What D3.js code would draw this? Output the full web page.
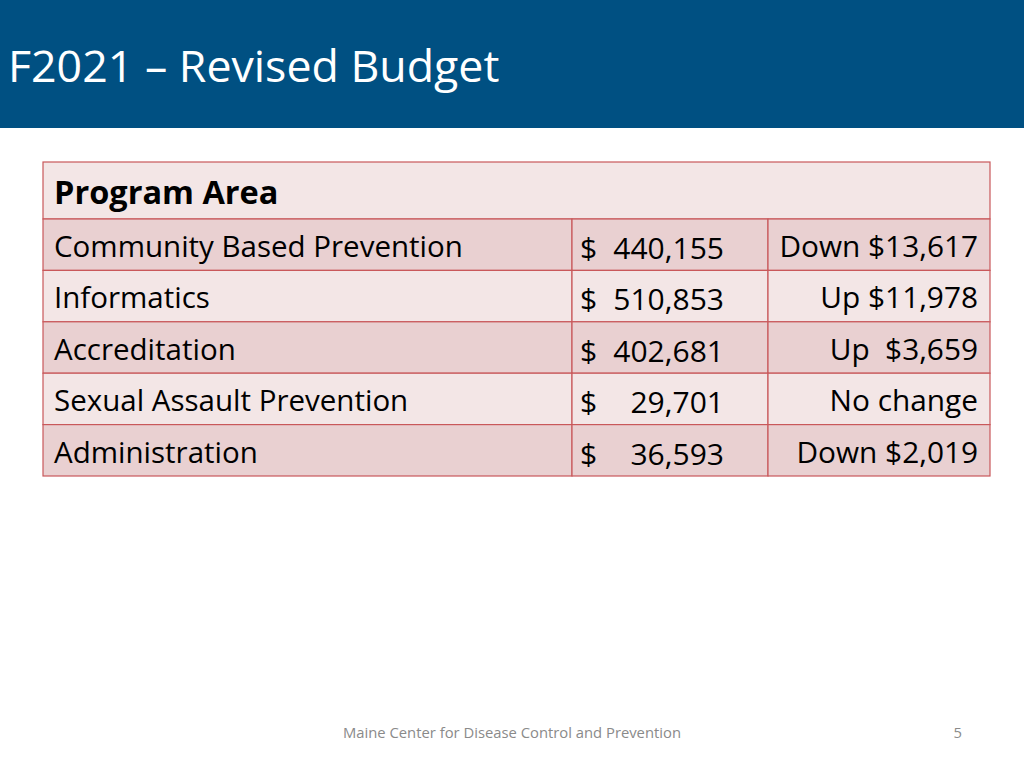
<!DOCTYPE html>
<html>
<head>
<meta charset="utf-8">
<script src="https://cdn.jsdelivr.net/npm/d3@7"></script>
<style>
  html, body { margin: 0; padding: 0; background: #ffffff; }
  svg { display: block; }
  text { font-family: "Open Sans", "Noto Sans", sans-serif; }
</style>
</head>
<body>
<svg id="chart" width="1024" height="768"></svg>
<script>
const titleText = "F2021 – Revised Budget";
const headerLabel = "Program Area";
const programs = ["Community Based Prevention", "Informatics", "Accreditation", "Sexual Assault Prevention", "Administration"];
const amounts = [440155, 510853, 402681, 29701, 36593];
const changes = ["Down $13,617", "Up $11,978", "Up  $3,659", "No change", "Down $2,019"];
const footerText = "Maine Center for Disease Control and Prevention";
const pageNumber = "5";

const svg = d3.select("#chart");
const W = 1024, H = 768;

// header band
svg.append("rect").attr("x", 0).attr("y", 0).attr("width", W).attr("height", 128).attr("fill", "#005082");
svg.append("text").attr("x", 8).attr("y", 82).attr("fill", "#ffffff")
  .attr("font-size", 44.7).text(titleText);

// table
const tLeft = 43, tRight = 990, tTop = 162, headH = 57, rowBottom = 476;
const colEdges = [tLeft, 572, 768, tRight];
const y = d3.scaleBand().domain(d3.range(programs.length)).range([tTop + headH, rowBottom]).paddingInner(0).paddingOuter(0);
const border = "#c9585a";
const g = svg.append("g");

g.append("rect").attr("x", tLeft).attr("y", tTop).attr("width", tRight - tLeft).attr("height", headH)
  .attr("fill", "#f3e6e6").attr("stroke", border).attr("stroke-width", 1.2);
g.append("text").attr("x", 54).attr("y", tTop + 42).attr("font-size", 32.5).attr("font-weight", "bold")
  .attr("fill", "#000").text(headerLabel);

const rows = g.selectAll("g.row").data(programs.map((p, i) => ({p, a: amounts[i], c: changes[i], i})))
  .join("g").attr("class", "row").attr("transform", d => `translate(0,${y(d.i)})`);

rows.each(function(d) {
  const r = d3.select(this);
  const fill = d.i % 2 === 0 ? "#e9d0d1" : "#f3e6e6";
  for (let c = 0; c < 3; c++) {
    r.append("rect").attr("x", colEdges[c]).attr("y", 0)
      .attr("width", colEdges[c + 1] - colEdges[c]).attr("height", y.bandwidth())
      .attr("fill", fill).attr("stroke", border).attr("stroke-width", 1.2);
  }
  r.append("text").attr("x", 54).attr("y", 38).attr("font-size", 29.5).attr("fill", "#000").text(d.p);
  r.append("text").attr("x", 580).attr("y", 40).attr("font-size", 30).attr("fill", "#000").text("$");
  r.append("text").attr("x", 724).attr("y", 40).attr("font-size", 30).attr("fill", "#000")
    .attr("text-anchor", "end").text(d3.format(",")(d.a));
  r.append("text").attr("x", 978).attr("y", 38).attr("font-size", 29.8).attr("fill", "#000")
    .attr("text-anchor", "end").attr("xml:space", "preserve").style("white-space", "pre").text(d.c);
});

// footer
svg.append("text").attr("x", 512).attr("y", 738).attr("text-anchor", "middle")
  .attr("font-size", 14.8).attr("fill", "#8a8a8a").text(footerText);
svg.append("text").attr("x", 962).attr("y", 738).attr("text-anchor", "end")
  .attr("font-size", 14.8).attr("fill", "#8a8a8a").text(pageNumber);
</script>
</body>
</html>
